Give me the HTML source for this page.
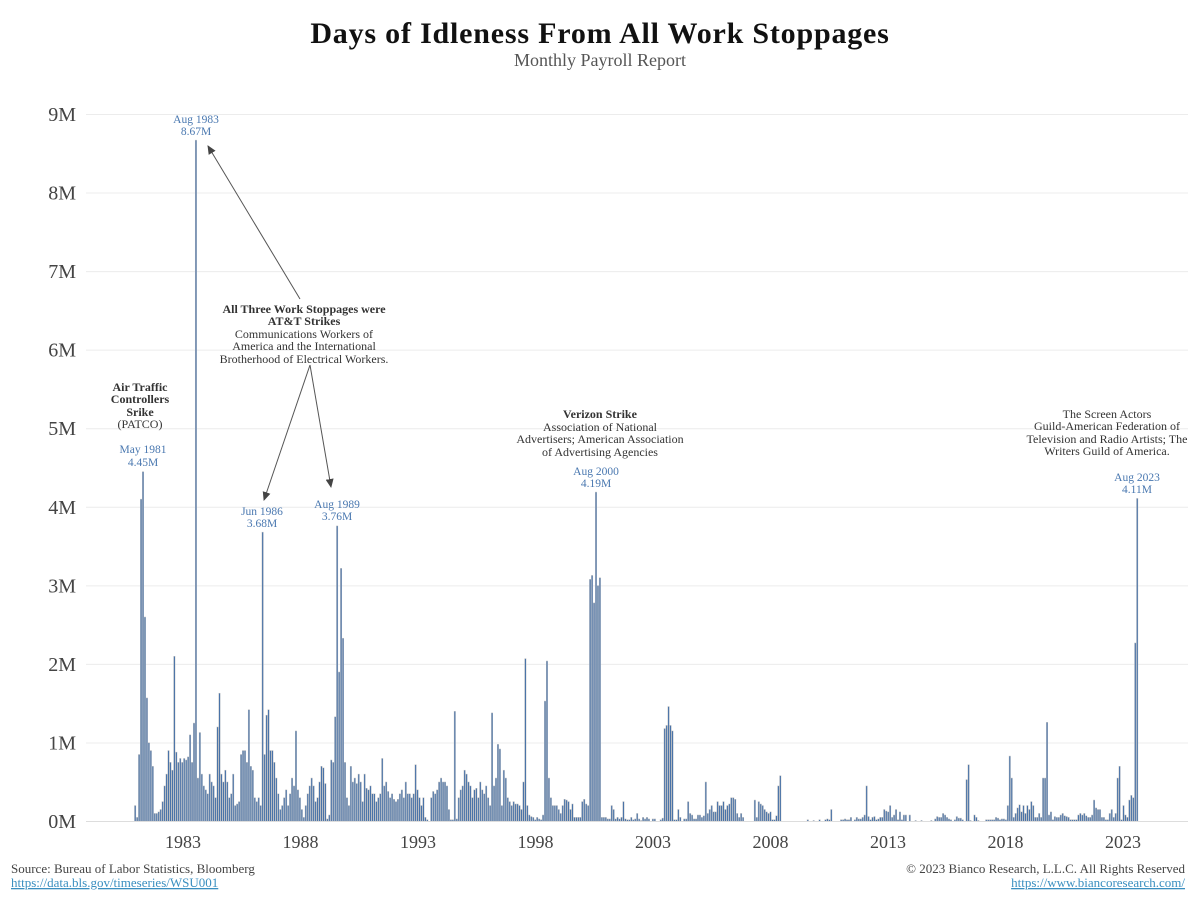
<!DOCTYPE html>
<html><head><meta charset="utf-8"><style>
body{margin:0;background:#fff;}
svg text{font-family:"Liberation Serif",serif;}
</style></head><body>
<svg id="c" width="1200" height="900" viewBox="0 0 1200 900" xmlns="http://www.w3.org/2000/svg">
<rect width="1200" height="900" fill="#fff"/>
<text x="600" y="43" text-anchor="middle" font-size="30" font-weight="bold" letter-spacing="0.8" fill="#111">Days of Idleness From All Work Stoppages</text>
<text x="600" y="66" text-anchor="middle" font-size="18" fill="#555">Monthly Payroll Report</text>
<g id="grid" stroke="#ececec" stroke-width="1"></g>
<g id="ylab" font-size="20" fill="#444" text-anchor="end"></g>
<line x1="86" y1="821.5" x2="1188" y2="821.5" stroke="#ddd"/>
<g id="xlab" font-size="18" fill="#444" text-anchor="middle"></g>
<g id="bars"></g>
<g font-size="11.5" fill="#4a78b0" text-anchor="middle">
<text x="196" y="123">Aug 1983</text><text x="196" y="135">8.67M</text>
<text x="143" y="453">May 1981</text><text x="143" y="466">4.45M</text>
<text x="262" y="515">Jun 1986</text><text x="262" y="527">3.68M</text>
<text x="337" y="508">Aug 1989</text><text x="337" y="520">3.76M</text>
<text x="596" y="475">Aug 2000</text><text x="596" y="487">4.19M</text>
<text x="1137" y="481">Aug 2023</text><text x="1137" y="493">4.11M</text>
</g>
<g font-size="12" fill="#333" text-anchor="middle">
<text x="140" y="391" font-weight="bold">Air Traffic</text>
<text x="140" y="403" font-weight="bold">Controllers</text>
<text x="140" y="416" font-weight="bold">Srike</text>
<text x="140" y="428">(PATCO)</text>
<text x="304" y="313" font-weight="bold">All Three Work Stoppages were</text>
<text x="304" y="325" font-weight="bold">AT&amp;T Strikes</text>
<text x="304" y="338">Communications Workers of</text>
<text x="304" y="350">America and the International</text>
<text x="304" y="363">Brotherhood of Electrical Workers.</text>
<text x="600" y="418" font-weight="bold">Verizon Strike</text>
<text x="600" y="431">Association of National</text>
<text x="600" y="443">Advertisers; American Association</text>
<text x="600" y="456">of Advertising Agencies</text>
<text x="1107" y="418">The Screen Actors</text>
<text x="1107" y="430">Guild-American Federation of</text>
<text x="1107" y="443">Television and Radio Artists; The</text>
<text x="1107" y="455">Writers Guild of America.</text>
</g>
<defs><marker id="ar" markerWidth="10" markerHeight="10" refX="8" refY="4" orient="auto" markerUnits="userSpaceOnUse"><path d="M0,0 L9,4 L0,8 z" fill="#444"/></marker></defs>
<g stroke="#555" stroke-width="1" fill="none">
<line x1="300" y1="299" x2="208" y2="146" marker-end="url(#ar)"/>
<line x1="310" y1="365" x2="264" y2="500" marker-end="url(#ar)"/>
<line x1="310" y1="365" x2="331" y2="487" marker-end="url(#ar)"/>
</g>
<g font-size="13">
<text x="11" y="873" fill="#444">Source: Bureau of Labor Statistics, Bloomberg</text>
<text x="11" y="887" fill="#3a8fc0" text-decoration="underline">https://data.bls.gov/timeseries/WSU001</text>
<text x="1185" y="873" fill="#444" text-anchor="end">© 2023 Bianco Research, L.L.C. All Rights Reserved</text>
<text x="1185" y="887" fill="#3a8fc0" text-anchor="end" text-decoration="underline">https://www.biancoresearch.com/</text>
</g>
</svg>
<script>
var NS="http://www.w3.org/2000/svg";
function el(t,a,p,txt){var e=document.createElementNS(NS,t);for(var k in a)e.setAttribute(k,a[k]);if(txt!=null)e.textContent=txt;document.getElementById(p).appendChild(e);}
var y0=821,pm=78.56;
for(var m=0;m<=9;m++){var y=y0-m*pm;if(m>0)el('line',{x1:86,x2:1188,y1:y+.5,y2:y+.5},'grid');el('text',{x:76,y:y+7},'ylab',m+'M');}
var x0=135.2,dx=1.961;
for(var yr=1983;yr<=2023;yr+=5){el('text',{x:183+(yr-1983)*23.5,y:848},'xlab',yr);}
var D=[
[.2,.05,.85,4.1,4.45,2.6,1.57,1.0,.9,.7,.1,.1],
[.12,.15,.25,.45,.6,.9,.75,.65,2.1,.88,.75,.8],
[.75,.8,.78,.82,1.1,.75,1.25,8.67,.55,1.13,.6,.45],
[.4,.35,.6,.5,.45,.3,1.2,1.63,.6,.5,.65,.5],
[.3,.35,.6,.2,.22,.25,.85,.9,.9,.75,1.42,.7],
[.65,.3,.25,.3,.2,3.68,.85,1.35,1.42,.9,.9,.75],
[.55,.35,.15,.2,.3,.4,.2,.35,.55,.45,1.15,.4],
[.3,.15,.05,.2,.35,.45,.55,.45,.25,.3,.5,.7],
[.68,.48,.03,.08,.78,.75,1.33,3.76,1.9,3.22,2.33,.75],
[.3,.2,.7,.5,.55,.48,.6,.5,.25,.6,.42,.4],
[.45,.35,.35,.25,.3,.35,.8,.45,.5,.38,.3,.35],
[.28,.25,.28,.35,.4,.3,.5,.35,.35,.3,.35,.72],
[.4,.3,.2,.3,.05,.02,0,.3,.38,.35,.4,.5],
[.55,.5,.5,.45,.15,.02,.02,1.4,.03,.3,.4,.45],
[.65,.6,.5,.45,.3,.4,.42,.3,.5,.4,.35,.45],
[.3,.2,1.38,.45,.55,.98,.92,.2,.65,.55,.3,.25],
[.2,.25,.22,.22,.2,.15,.5,2.07,.2,.08,.06,.05],
[.02,.05,.03,.02,.08,1.53,2.04,.55,.3,.2,.2,.2],
[.15,.1,.2,.28,.27,.25,.15,.22,.05,.05,.05,.05],
[.25,.28,.22,.2,3.08,3.13,2.78,4.19,3.0,3.1,.05,.05],
[.05,.03,.03,.2,.15,.03,.05,.03,.05,.25,.03,.02],
[.02,.05,.02,.03,.1,.03,.01,.05,.03,.05,.03,0],
[.03,.03,0,0,.02,.04,1.18,1.22,1.46,1.22,1.15,.02],
[.02,.15,.05,0,.03,.03,.25,.1,.08,.03,.03,.08],
[.08,.05,.07,.5,.1,.15,.2,.12,.12,.25,.2,.2],
[.25,.15,.2,.22,.3,.3,.28,.1,.05,.1,.05,0],
[0,0,0,0,.27,.05,.25,.22,.2,.15,.12,.1],
[.12,.02,.02,.07,.45,.58,0,0,0,0,0,0],
[0,0,0,0,0,0,0,.02,0,0,.01,0],
[0,.02,0,0,.02,.03,.02,.15,0,0,0,0],
[.02,.02,.03,.02,.02,.05,0,.02,.05,.03,.03,.05],
[.08,.45,.06,.02,.05,.06,.02,.03,.05,.05,.15,.13],
[.12,.2,.05,.08,.15,.02,.12,.02,.08,.08,0,.08],
[0,0,.01,0,0,.01,0,0,0,0,.01,0],
[.03,.06,.05,.05,.1,.08,.05,.03,.02,0,.02,.06],
[.04,.04,.02,0,.53,.72,.01,0,.08,.05,.01,0],
[0,0,.02,.02,.02,.02,.02,.05,.04,.02,.03,.03],
[.02,.2,.83,.55,.05,.1,.17,.21,.12,.2,.1,.2],
[.15,.25,.2,.05,.05,.1,.05,.55,.55,1.26,.08,.12],
[.02,.06,.05,.05,.08,.1,.07,.06,.05,.02,.02,.02],
[.02,.08,.1,.08,.1,.07,.05,.05,.08,.27,.17,.15],
[.15,.05,.05,.02,.02,.1,.15,.05,.1,.55,.7,.02],
[.2,.08,.05,.27,.33,.3,2.27,4.11]
];
var i=0;
D.forEach(function(r){r.forEach(function(v){var x=x0+i*dx;var h=v*pm;if(h>0){el('rect',{x:(x-1).toFixed(2),y:(y0-h).toFixed(2),width:1.9,height:h.toFixed(2),fill:'#c4c4c4'},'bars');el('rect',{x:(x-0.55).toFixed(2),y:(y0-h+0.5).toFixed(2),width:1.1,height:Math.max(0,h-0.5).toFixed(2),fill:'#4a73a8'},'bars');}i++;});});
</script>
</body></html>
